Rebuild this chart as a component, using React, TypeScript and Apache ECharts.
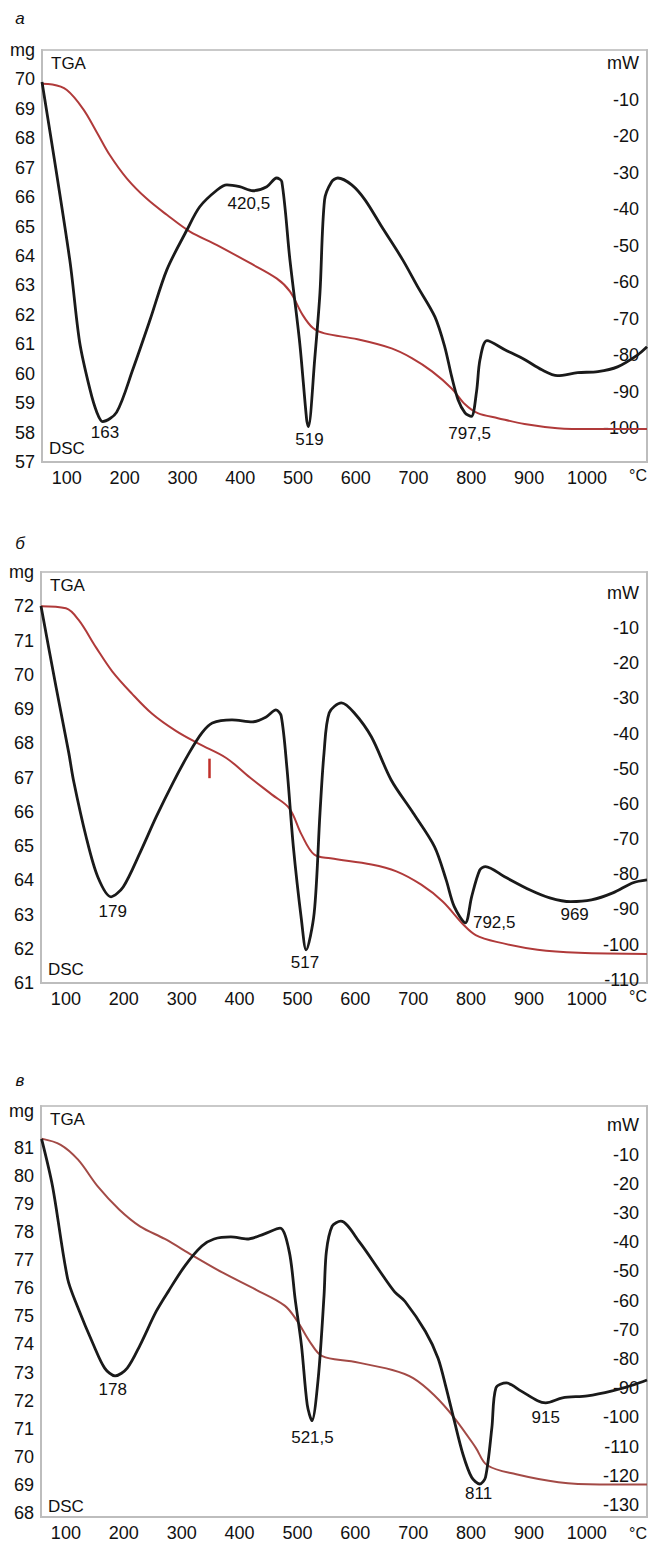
import React, { useEffect, useRef } from "react";
import * as echarts from "echarts";

const FONT = "'Liberation Sans Narrow', 'Liberation Sans', Arial, sans-serif";

const X_TICKS = [100, 200, 300, 400, 500, 600, 700, 800, 900, 1000];

// ---------- panel а ----------
const tgaA_T = [57, 75, 100, 128, 152, 174, 204, 238, 273, 313, 359, 415, 463, 486, 508, 526, 546, 603, 662, 697, 732, 766, 789, 811, 846, 892, 949, 1008, 1104];
const tgaA_mg = [69.85, 69.83, 69.64, 69.0, 68.2, 67.44, 66.63, 65.95, 65.4, 64.83, 64.38, 63.78, 63.24, 62.8, 62.0, 61.55, 61.37, 61.17, 60.86, 60.53, 60.08, 59.5, 58.96, 58.66, 58.49, 58.29, 58.15, 58.12, 58.12];
const dscA_T = [57, 105, 122, 140, 152, 162, 186, 214, 244, 273, 308, 330, 360, 377, 399, 422, 446, 463, 472, 486, 503, 515, 518, 529, 538, 546, 558, 569, 593, 616, 645, 681, 707, 737, 754, 766, 777, 789, 800, 809, 815, 827, 858, 892, 922, 949, 984, 1019, 1053, 1088, 1104];
const dscA_mW = [-5.1, -53.8, -76.3, -89.4, -95.7, -98.2, -95.7, -84, -70.3, -56.6, -45.6, -39.3, -34.7, -33.3, -33.8, -34.9, -33.8, -31.4, -32.4, -53.8, -76.6, -97.7, -99.6, -81, -63, -37.4, -32.5, -31.4, -33.3, -37.4, -44.8, -53.8, -61.2, -69.5, -77.7, -85.9, -92.2, -95.8, -96.8, -90, -81.2, -76, -78.5, -81.2, -84, -85.6, -84.8, -84.5, -83.2, -79.9, -77.7];
const leftTicksA = [57, 58, 59, 60, 61, 62, 63, 64, 65, 66, 67, 68, 69, 70];
const rightTicksA = [-100, -90, -80, -70, -60, -50, -40, -30, -20, -10];
const peakTextA = ["163", "420,5", "519", "797,5"];
const peakTA = [166, 415, 520, 797];
const peakVA = [-101.2, -38.5, -103.2, -101.5];

// ---------- panel б ----------
const tgaB_T = [57, 100, 122, 152, 180, 214, 249, 290, 330, 377, 418, 456, 486, 507, 529, 557, 628, 671, 714, 751, 787, 808, 844, 915, 986, 1104];
const tgaB_mg = [72.0, 71.94, 71.6, 70.8, 70.1, 69.45, 68.86, 68.36, 67.98, 67.57, 67.0, 66.5, 66.1, 65.34, 64.75, 64.64, 64.46, 64.26, 63.87, 63.38, 62.7, 62.4, 62.2, 61.97, 61.88, 61.85];
const dscB_T = [57, 83, 105, 113, 135, 155, 178, 199, 228, 256, 285, 313, 335, 353, 387, 422, 446, 463, 472, 482, 493, 507, 515, 529, 539, 546, 555, 576, 598, 628, 662, 700, 737, 757, 771, 790, 801, 815, 825, 858, 901, 936, 972, 1008, 1045, 1080, 1104];
const dscB_mW = [-3.75, -26.8, -45.5, -53.2, -69.4, -80.7, -86.4, -83.6, -73.9, -63.7, -54, -45.5, -39.8, -37, -36.1, -36.7, -35.3, -33.3, -35, -50, -72.2, -93, -101.5, -91, -62.6, -45.5, -34.1, -31.3, -34.1, -41, -53.2, -62.6, -72.2, -81.6, -89.2, -93.8, -86.4, -78.8, -77.8, -80.7, -84.4, -86.7, -87.8, -87.3, -85.3, -82.4, -81.6];
const leftTicksB = [61, 62, 63, 64, 65, 66, 67, 68, 69, 70, 71, 72];
const rightTicksB = [-110, -100, -90, -80, -70, -60, -50, -40, -30, -20, -10];
const peakTextB = ["179", "517", "792,5", "969"];
const peakTB = [181, 513, 840, 979];
const peakVB = [-90.7, -105.2, -93.8, -91.5];

// ---------- panel в ----------
const tgaC_T = [58, 91, 121, 155, 192, 228, 271, 320, 371, 428, 478, 500, 521, 543, 593, 664, 700, 736, 771, 808, 828, 878, 951, 1022, 1104];
const tgaC_mg = [81.32, 81.1, 80.57, 79.62, 78.8, 78.2, 77.75, 77.15, 76.55, 75.95, 75.38, 74.82, 74.11, 73.58, 73.4, 73.09, 72.8, 72.2, 71.39, 70.33, 69.7, 69.38, 69.1, 69.02, 69.02];
const dscC_T = [58, 77, 103, 120, 148, 167, 185, 206, 228, 256, 278, 306, 335, 356, 385, 413, 442, 470, 486, 496, 507, 517, 525, 536, 546, 550, 560, 575, 607, 643, 668, 686, 721, 743, 757, 771, 786, 801, 815, 825, 836, 843, 861, 886, 915, 929, 958, 1001, 1044, 1080, 1104];
const dscC_mW = [-4.6, -20.9, -52.5, -62, -75.3, -83.1, -85.8, -83.1, -75.3, -63.7, -56.5, -48, -41.3, -38.9, -38.2, -38.9, -37.2, -35.2, -43.3, -59.3, -75.3, -95.7, -101.1, -86.5, -58.3, -43.3, -34.5, -32.8, -39.9, -50.1, -57, -60.3, -70.5, -79.7, -89.9, -101.1, -112.6, -120.5, -122.8, -120.5, -103.5, -89.9, -88.2, -90.9, -94.3, -95, -93.3, -92.6, -90.9, -88.9, -87.2];
const leftTicksC = [68, 69, 70, 71, 72, 73, 74, 75, 76, 77, 78, 79, 80, 81];
const rightTicksC = [-130, -120, -110, -100, -90, -80, -70, -60, -50, -40, -30, -20, -10];
const peakTextC = ["178", "521,5", "811", "915"];
const peakTC = [181, 526, 813, 929];
const peakVC = [-90.6, -106.9, -126.2, -100.1];

const zip = (a: number[], b: number[]) => a.map((v, i) => [v, b[i]]);

const panels = [
  {
    letter: "а", letterY: 18,
    grid: { left: 42, top: 50, width: 605, height: 412 },
    yL: [57, 71], mgAt: 71, yR: [-109.3, 3.7],
    leftTicks: leftTicksA, rightTicks: rightTicksA,
    tga: zip(tgaA_T, tgaA_mg), dsc: zip(dscA_T, dscA_mW),
    peaks: peakTextA.map((t, i) => ({ name: t, coord: [peakTA[i], peakVA[i]] })),
    tgaColor: "#b03a3a",
  },
  {
    letter: "б", letterY: 543,
    grid: { left: 41, top: 572, width: 606, height: 411 },
    yL: [61, 73], mgAt: 73, yR: [-110.9, 5.9],
    leftTicks: leftTicksB, rightTicks: rightTicksB,
    tga: zip(tgaB_T, tgaB_mg), dsc: zip(dscB_T, dscB_mW),
    peaks: peakTextB.map((t, i) => ({ name: t, coord: [peakTB[i], peakVB[i]] })),
    tgaColor: "#b03a3a",
  },
  {
    letter: "в", letterY: 1080,
    grid: { left: 41, top: 1106, width: 606, height: 414 },
    yL: [67.86, 82.48], mgAt: 82.3, yR: [-134.1, 6.65],
    leftTicks: leftTicksC, rightTicks: rightTicksC,
    tga: zip(tgaC_T, tgaC_mg), dsc: zip(dscC_T, dscC_mW),
    peaks: peakTextC.map((t, i) => ({ name: t, coord: [peakTC[i], peakVC[i]] })),
    tgaColor: "#a34a46",
  },
];

const AXIS_GRAY = "#bdbdbd";
const TXT = "#111";

export default function App() {
  const ref = useRef<HTMLDivElement>(null);
  useEffect(() => {
    if (!ref.current) return;
    const chart = echarts.init(ref.current, undefined, { renderer: "svg" });
    const grid: any[] = [];
    const xAxis: any[] = [];
    const yAxis: any[] = [];
    const series: any[] = [];
    const graphic: any[] = [];
    panels.forEach((p, i) => {
      grid.push({ ...p.grid, show: true, borderColor: "#c9c9c9", borderWidth: 2, backgroundColor: "#fff" });
      xAxis.push({
        type: "value", gridIndex: i, min: 57, max: 1104,
        axisLine: { show: true, onZero: false, lineStyle: { color: AXIS_GRAY, width: 2 } },
        axisTick: { show: false }, splitLine: { show: false },
        axisLabel: {
          customValues: X_TICKS, color: TXT, fontSize: 18, fontFamily: FONT, margin: 7,
          formatter: (v: number) => String(v),
        },
      });
      const mgAt = p.mgAt;
      yAxis.push({
        type: "value", gridIndex: i, position: "left", min: p.yL[0], max: p.yL[1],
        axisLine: { show: true, onZero: false, lineStyle: { color: AXIS_GRAY, width: 2 } },
        axisTick: { show: false }, splitLine: { show: false },
        axisLabel: {
          customValues: [...p.leftTicks, mgAt], color: TXT, fontSize: 18, fontFamily: FONT, margin: 7,
          formatter: (v: number) => (Math.abs(v - mgAt) < 1e-6 ? "mg" : String(v)),
        },
      });
      yAxis.push({
        type: "value", gridIndex: i, position: "right", min: p.yR[0], max: p.yR[1],
        axisLine: { show: true, onZero: false, lineStyle: { color: AXIS_GRAY, width: 2 } },
        axisTick: { show: false }, splitLine: { show: false },
        axisLabel: {
          inside: true, customValues: [...p.rightTicks, 0], color: TXT, fontSize: 18, fontFamily: FONT, margin: 8,
          formatter: (v: number) => (v === 0 ? "mW" : String(v)),
        },
      });
      series.push({
        type: "line", xAxisIndex: i, yAxisIndex: 2 * i, data: p.tga, showSymbol: false,
        smooth: 0.35, lineStyle: { color: p.tgaColor, width: 2 }, z: 2,
        markLine: i === 1 ? {
          symbol: "none", silent: true, label: { show: false },
          lineStyle: { color: "#c0302a", width: 2.5, type: "solid" },
          data: [[{ coord: [347, 67.55] }, { coord: [347, 66.98] }]],
        } : undefined,
      });
      series.push({
        type: "line", xAxisIndex: i, yAxisIndex: 2 * i + 1, data: p.dsc, showSymbol: false,
        smooth: 0.3, lineStyle: { color: "#1a1a1a", width: 2.8 }, z: 3,
        markPoint: {
          symbol: "circle", symbolSize: 0, silent: true,
          label: { show: true, formatter: "{b}", color: TXT, fontSize: 17, fontFamily: FONT },
          data: p.peaks,
        },
      });
      const g = p.grid;
      graphic.push({ type: "text", x: 20, y: p.letterY, style: { text: p.letter, fill: TXT, font: `italic 17px ${FONT}`, textAlign: "center", textVerticalAlign: "middle" } });
      graphic.push({ type: "text", x: g.left + 9, y: g.top + 13, style: { text: "TGA", fill: TXT, font: `17px ${FONT}`, textAlign: "left", textVerticalAlign: "middle" } });
      graphic.push({ type: "text", x: g.left + 7, y: g.top + g.height - 14, style: { text: "DSC", fill: TXT, font: `17px ${FONT}`, textAlign: "left", textVerticalAlign: "middle" } });
      graphic.push({ type: "text", x: 647, y: g.top + g.height + 13, style: { text: "°C", fill: TXT, font: `16px ${FONT}`, textAlign: "right", textVerticalAlign: "middle" } });
    });
    chart.setOption({
      animation: false,
      backgroundColor: "#fff",
      grid, xAxis, yAxis, series, graphic,
    });
    return () => chart.dispose();
  }, []);
  return <div ref={ref} style={{ position: "absolute", left: 0, top: 0, width: 649, height: 1542 }} />;
}
